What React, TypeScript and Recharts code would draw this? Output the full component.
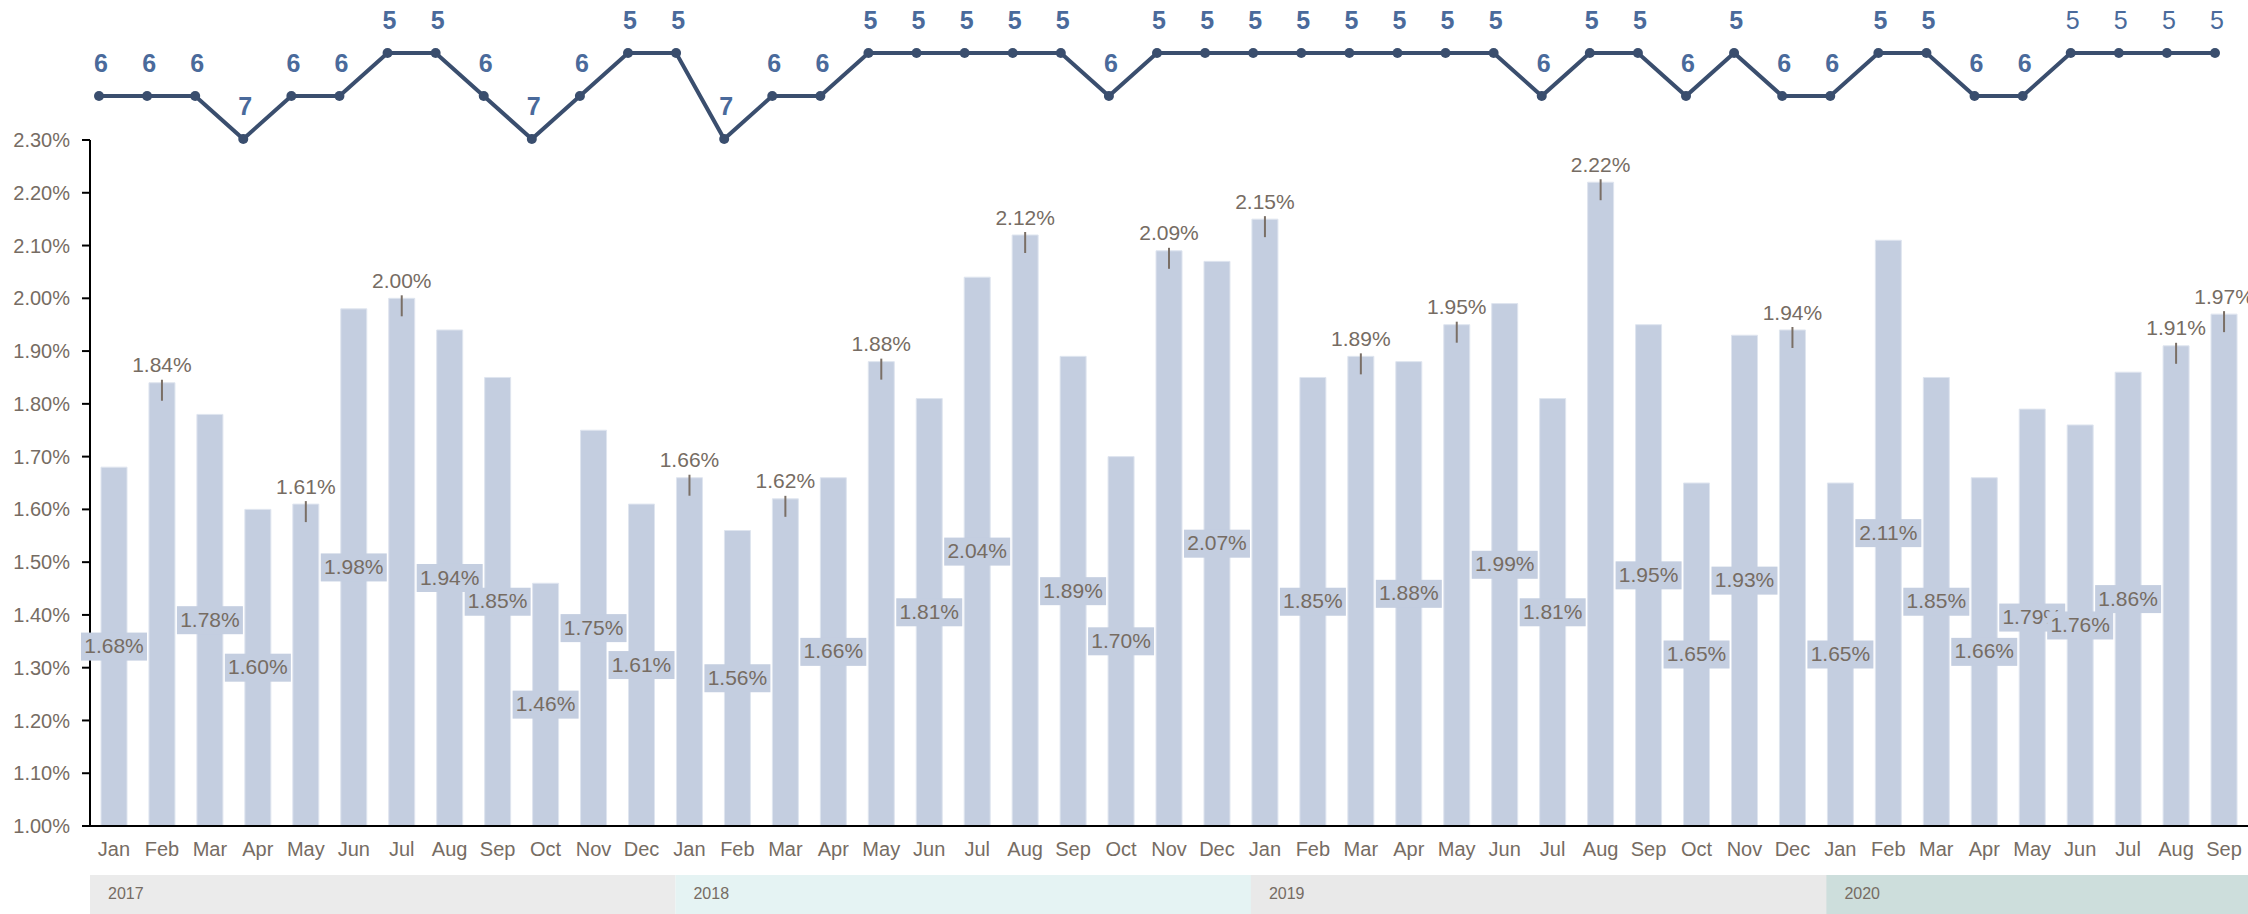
import { ComposedChart, Bar, Line, XAxis, YAxis, LabelList } from 'recharts'

const months = [
  'Jan', 'Feb', 'Mar', 'Apr', 'May', 'Jun', 'Jul', 'Aug', 'Sep', 'Oct', 'Nov', 'Dec',
  'Jan', 'Feb', 'Mar', 'Apr', 'May', 'Jun', 'Jul', 'Aug', 'Sep', 'Oct', 'Nov', 'Dec',
  'Jan', 'Feb', 'Mar', 'Apr', 'May', 'Jun', 'Jul', 'Aug', 'Sep', 'Oct', 'Nov', 'Dec',
  'Jan', 'Feb', 'Mar', 'Apr', 'May', 'Jun', 'Jul', 'Aug', 'Sep',
]

const years = [
  '2017', '2017', '2017', '2017', '2017', '2017', '2017', '2017', '2017', '2017', '2017', '2017',
  '2018', '2018', '2018', '2018', '2018', '2018', '2018', '2018', '2018', '2018', '2018', '2018',
  '2019', '2019', '2019', '2019', '2019', '2019', '2019', '2019', '2019', '2019', '2019', '2019',
  '2020', '2020', '2020', '2020', '2020', '2020', '2020', '2020', '2020',
]

// monthly rate, in percent
const rates = [
  1.68, 1.84, 1.78, 1.60, 1.61, 1.98, 2.00, 1.94, 1.85, 1.46, 1.75, 1.61,
  1.66, 1.56, 1.62, 1.66, 1.88, 1.81, 2.04, 2.12, 1.89, 1.70, 2.09, 2.07,
  2.15, 1.85, 1.89, 1.88, 1.95, 1.99, 1.81, 2.22, 1.95, 1.65, 1.93, 1.94,
  1.65, 2.11, 1.85, 1.66, 1.79, 1.76, 1.86, 1.91, 1.97,
]

// rank line on top
const ranks = [
  6, 6, 6, 7, 6, 6, 5, 5, 6, 7, 6, 5,
  5, 7, 6, 6, 5, 5, 5, 5, 5, 6, 5, 5,
  5, 5, 5, 5, 5, 5, 6, 5, 5, 6, 5, 6,
  6, 5, 5, 6, 6, 5, 5, 5, 5,
]

// months whose value is written above the bar (index into the lists)
const topLabelIdx = [1, 4, 6, 12, 14, 16, 19, 22, 24, 26, 28, 31, 35, 43, 44]
// rank labels drawn in normal weight
const plainRankIdx = [41, 42, 43, 44]

const yTicks = [1.0, 1.1, 1.2, 1.3, 1.4, 1.5, 1.6, 1.7, 1.8, 1.9, 2.0, 2.1, 2.2, 2.3]

const yearColors: Record<string, string> = {
  '2017': '#ebebeb',
  '2018': '#e5f3f3',
  '2019': '#e9e9e9',
  '2020': '#cddedc',
}

const data = months.map((m, i) => ({
  key: `${m} ${years[i]}`,
  month: m,
  year: years[i],
  rate: rates[i],
  rank: ranks[i],
}))

const FONT = "'Liberation Sans', Arial, sans-serif"
const TEXT = '#766c63'
const BAR = '#c4cee0'
const LINE = '#3a4e6e'

function MonthTick(props: any) {
  const { x, y, index, payload } = props
  const d = data[index]
  if (!d) return null
  const bw = (payload?.offset ?? 24) * 2
  const first = index === 0 || data[index - 1].year !== d.year
  const count = data.filter((r) => r.year === d.year).length
  // year strips start a little after the band edge, except the first one
  const left = x - bw / 2 + (index === 0 ? 0 : 10)
  return (
    <g>
      <text
        x={x}
        y={y + 17}
        textAnchor="middle"
        dominantBaseline="middle"
        fontFamily={FONT}
        fontSize={20}
        fill={TEXT}
      >
        {d.month}
      </text>
      {first && (
        <g>
          <rect x={left} y={y + 41} width={bw * count + 10} height={40} fill={yearColors[d.year]} />
          <text
            x={left + 18}
            y={y + 65}
            fontFamily={FONT}
            fontSize={16}
            fill={TEXT}
          >
            {d.year}
          </text>
        </g>
      )}
    </g>
  )
}

function RateLabel(props: any) {
  const { x, y, width, height, value, index } = props
  const cx = x + width / 2
  const txt = `${Number(value).toFixed(2)}%`
  if (topLabelIdx.includes(index)) {
    return (
      <g>
        <line x1={cx} x2={cx} y1={y - 3} y2={y + 18} stroke="#7a6f66" strokeWidth={2} />
        <text
          x={cx}
          y={y - 16}
          textAnchor="middle"
          dominantBaseline="middle"
          fontFamily={FONT}
          fontSize={21}
          fill={TEXT}
        >
          {txt}
        </text>
      </g>
    )
  }
  const cy = y + height / 2
  return (
    <g>
      <rect x={cx - 33} y={cy - 14} width={66} height={28} fill={BAR} />
      <text
        x={cx}
        y={cy + 1}
        textAnchor="middle"
        dominantBaseline="middle"
        fontFamily={FONT}
        fontSize={21}
        fill={TEXT}
      >
        {txt}
      </text>
    </g>
  )
}

function RankLabel(props: any) {
  const { x, y, value, index } = props
  const plain = plainRankIdx.includes(index)
  return (
    <text
      x={x + 2}
      y={y - 31}
      textAnchor="middle"
      dominantBaseline="middle"
      fontFamily={FONT}
      fontSize={25}
      fontWeight={plain ? 'normal' : 'bold'}
      fill="#4a6a9b"
    >
      {value}
    </text>
  )
}

export default function App() {
  return (
    <div style={{ position: 'absolute', left: 0, top: 0, width: 2248, height: 914, background: '#fff' }}>
      <div style={{ position: 'absolute', left: 0, top: 0 }}>
        <ComposedChart
          width={2248}
          height={914}
          data={data}
          margin={{ top: 140, right: 0, left: 0, bottom: 0 }}
          barCategoryGap={0}
        >
          <XAxis
            dataKey="key"
            interval={0}
            height={88}
            tickLine={false}
            axisLine={{ stroke: '#000', strokeWidth: 2 }}
            tick={<MonthTick />}
          />
          <YAxis
            width={90}
            domain={[1.0, 2.3]}
            ticks={yTicks}
            allowDataOverflow
            tickFormatter={(v: number) => `${v.toFixed(2)}%`}
            tickSize={8}
            tickMargin={12}
            tickLine={{ stroke: '#000', strokeWidth: 2 }}
            axisLine={{ stroke: '#000', strokeWidth: 2 }}
            tick={{ fill: TEXT, fontSize: 20, fontFamily: FONT }}
          />
          <Bar
            dataKey="rate"
            fill={BAR}
            stroke="#dfe5ef"
            strokeWidth={1}
            barSize={26}
            isAnimationActive={false}
          >
            <LabelList dataKey="rate" content={<RateLabel />} />
          </Bar>
        </ComposedChart>
      </div>
      <div style={{ position: 'absolute', left: 0, top: 0 }}>
        <ComposedChart
          width={2248}
          height={160}
          data={data}
          margin={{ top: 53, right: 33, left: 99, bottom: 21 }}
        >
          <XAxis dataKey="key" hide scale="point" />
          <YAxis hide domain={[5, 7]} reversed />
          <Line
            dataKey="rank"
            stroke={LINE}
            strokeWidth={4}
            dot={{ r: 5, fill: LINE, stroke: LINE, strokeWidth: 0 }}
            isAnimationActive={false}
          >
            <LabelList dataKey="rank" content={<RankLabel />} />
          </Line>
        </ComposedChart>
      </div>
    </div>
  )
}
